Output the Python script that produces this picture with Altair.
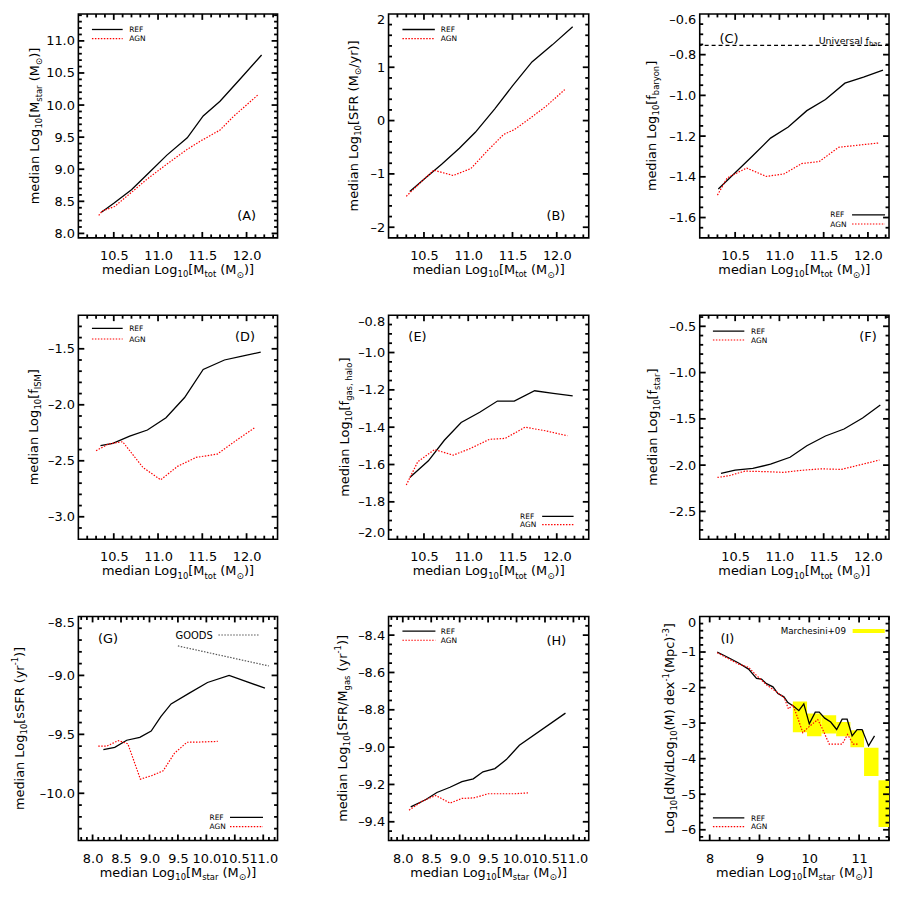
import altair as alt
import numpy as np
import pandas as pd

FONT = "DejaVu Sans"

# ================= data =================
# (A) median stellar mass vs total mass
A_REF_X = [10.36, 10.5, 10.7, 10.9, 11.1, 11.33, 11.51, 11.7, 11.93, 12.17]
A_REF_Y = [8.33, 8.47, 8.68, 8.95, 9.22, 9.49, 9.83, 10.06, 10.41, 10.78]
A_AGN_X = [10.33, 10.37, 10.51, 10.7, 10.88, 11.1, 11.33, 11.48, 11.7, 11.85, 12.13]
A_AGN_Y = [8.28, 8.35, 8.42, 8.64, 8.85, 9.08, 9.31, 9.44, 9.61, 9.82, 10.16]
# (B) SFR
B_REF_X = [10.34, 10.5, 10.7, 10.9, 11.08, 11.3, 11.5, 11.72, 11.95, 12.18]
B_REF_Y = [-1.33, -1.1, -0.82, -0.52, -0.22, 0.22, 0.65, 1.1, 1.42, 1.76]
B_AGN_X = [10.30, 10.45, 10.61, 10.83, 11.03, 11.22, 11.4, 11.52, 11.68, 11.88, 12.09]
B_AGN_Y = [-1.42, -1.18, -0.93, -1.03, -0.9, -0.56, -0.26, -0.17, 0.02, 0.27, 0.58]
# (C) baryon fraction
C_REF_X = [10.31, 10.5, 10.69, 10.9, 11.1, 11.31, 11.52, 11.74, 11.95, 12.17]
C_REF_Y = [-1.46, -1.38, -1.30, -1.21, -1.155, -1.075, -1.02, -0.94, -0.91, -0.876]
C_AGN_X = [10.3, 10.41, 10.63, 10.85, 11.05, 11.25, 11.45, 11.67, 11.9, 12.12]
C_AGN_Y = [-1.49, -1.405, -1.357, -1.398, -1.386, -1.335, -1.325, -1.255, -1.244, -1.234]
UNIVERSAL_FBAR = -0.754
# (D) ISM fraction
D_REF_X = [10.35, 10.49, 10.68, 10.88, 11.09, 11.3, 11.51, 11.75, 11.95, 12.16]
D_REF_Y = [-2.365, -2.345, -2.28, -2.225, -2.115, -1.935, -1.685, -1.6, -1.565, -1.53]
D_AGN_X = [10.3, 10.44, 10.6, 10.83, 11.03, 11.22, 11.43, 11.67, 11.88, 12.1]
D_AGN_Y = [-2.41, -2.35, -2.33, -2.56, -2.67, -2.55, -2.47, -2.44, -2.32, -2.2]
# (E) halo gas fraction
E_REF_X = [10.34, 10.55, 10.73, 10.92, 11.13, 11.33, 11.52, 11.75, 11.96, 12.18]
E_REF_Y = [-1.67, -1.58, -1.47, -1.375, -1.32, -1.26, -1.26, -1.205, -1.219, -1.232]
E_AGN_X = [10.3, 10.43, 10.62, 10.83, 11.02, 11.24, 11.42, 11.64, 11.88, 12.12]
E_AGN_Y = [-1.71, -1.585, -1.52, -1.55, -1.515, -1.465, -1.46, -1.4, -1.42, -1.446]
# (F) stellar fraction
F_REF_X = [10.34, 10.5, 10.7, 10.9, 11.12, 11.31, 11.52, 11.73, 11.94, 12.14]
F_REF_Y = [-2.09, -2.055, -2.035, -1.99, -1.915, -1.79, -1.685, -1.61, -1.49, -1.35]
F_AGN_X = [10.3, 10.43, 10.61, 10.83, 11.05, 11.25, 11.47, 11.7, 11.92, 12.13]
F_AGN_Y = [-2.133, -2.115, -2.065, -2.07, -2.078, -2.056, -2.04, -2.046, -1.995, -1.945]
# (G) sSFR
G_REF_X = [8.19, 8.39, 8.6, 8.83, 9.03, 9.2, 9.38, 9.7, 10.02, 10.4, 11.03]
G_REF_Y = [-9.63, -9.61, -9.55, -9.525, -9.472, -9.35, -9.242, -9.15, -9.06, -9.0, -9.108]
G_AGN_X = [8.1, 8.25, 8.45, 8.62, 8.84, 9.04, 9.24, 9.44, 9.66, 9.9, 10.2]
G_AGN_Y = [-9.6, -9.6, -9.553, -9.58, -9.88, -9.85, -9.81, -9.66, -9.567, -9.565, -9.56]
GOODS_X = [9.5, 11.1]
GOODS_Y = [-8.75, -8.92]
# (H) SFR / Mgas
H_REF_X = [8.14, 8.4, 8.6, 8.83, 9.04, 9.24, 9.41, 9.62, 9.82, 10.05, 10.86]
H_REF_Y = [-9.32, -9.282, -9.243, -9.215, -9.185, -9.17, -9.132, -9.115, -9.067, -8.99, -8.818]
H_AGN_X = [8.11, 8.34, 8.58, 8.83, 9.04, 9.25, 9.5, 9.7, 9.95, 10.22]
H_AGN_Y = [-9.338, -9.29, -9.259, -9.3, -9.275, -9.272, -9.25, -9.25, -9.25, -9.245]
# (I) stellar mass function
I_REF_X = [8.15, 8.38, 8.58, 8.78, 8.94, 9.04, 9.14, 9.27, 9.37, 9.49, 9.57, 9.68, 9.79, 9.89,
           10.0, 10.12, 10.2, 10.31, 10.43, 10.55, 10.66, 10.76, 10.86, 10.96, 11.06, 11.19, 11.31]
I_REF_Y = [-1.0, -1.16, -1.31, -1.48, -1.74, -1.76, -1.89, -1.98, -2.17, -2.26, -2.42, -2.52, -2.65, -2.46,
           -3.02, -2.69, -2.69, -2.86, -2.97, -3.18, -2.89, -2.89, -3.36, -3.18, -3.18, -3.64, -3.36]
I_AGN_X = [8.15, 8.35, 8.58, 8.78, 8.94, 9.14, 9.34, 9.5, 9.58, 9.67, 9.77, 9.87, 9.97, 10.17,
           10.27, 10.4, 10.66, 10.77, 10.88, 10.98]
I_AGN_Y = [-1.02, -1.17, -1.34, -1.43, -1.66, -1.92, -2.12, -2.29, -2.6, -2.49, -2.86, -3.27, -3.13, -2.9,
           -3.18, -3.59, -3.59, -3.32, -3.59, -3.59]
MARCH_X1 = [9.67, 9.955, 10.245, 10.54, 10.825, 11.1, 11.39]
MARCH_X2 = [9.955, 10.245, 10.54, 10.825, 11.1, 11.39, 11.7]
MARCH_YTOP = [-2.39, -2.73, -2.78, -2.97, -3.2, -3.69, -4.61]
MARCH_YBOT = [-3.26, -3.37, -3.29, -3.37, -3.68, -4.49, -5.92]

# ================= text helpers =================
CW = {' ': .318, 'a': .613, 'b': .635, 'c': .550, 'd': .635, 'e': .615, 'f': .352, 'g': .635,
      'h': .634, 'i': .278, 'l': .278, 'm': .974, 'n': .634, 'o': .612, 'p': .635, 'r': .411,
      's': .521, 't': .392, 'u': .634, 'v': .592, 'x': .592, 'y': .592, 'A': .684, 'C': .698,
      'D': .770, 'E': .632, 'F': .575, 'G': .775, 'H': .752, 'I': .295, 'L': .557, 'M': .863,
      'N': .748, 'O': .787, 'R': .695, 'S': .635, 'U': .732, '[': .390, ']': .390, '(': .390,
      ')': .390, '/': .337, ',': .318, '-': .361, '+': .838, '\u2299': .838}
for _d in '0123456789':
    CW[_d] = .636


def tw(s, fs):
    return sum(CW.get(ch, 0.6) for ch in s) * fs


N = (13.0, 0.0)
SUB = (8.5, 3.2)
SUP = (8.5, -5.5)
SUN = (9.0, 3.6)
SUN_CHAR = "\u2299"
XT_BASE = 36.5


def seg_rows(segs, horizontal, w, h, base):
    rows = []
    widths = [tw(t, st[0]) for t, st in segs]
    total = sum(widths)
    cum = 0.0
    for (t, (fs, sh)), wd in zip(segs, widths):
        lead = len(t) - len(t.lstrip(' '))
        off = cum + tw(' ' * lead, fs)
        txt = t.strip(' ')
        if horizontal:
            rows.append(dict(px=w / 2 - total / 2 + off, py=h + base + sh, t=txt, fs=fs, ang=0))
        else:
            rows.append(dict(px=base + sh, py=h / 2 + total / 2 - off, t=txt, fs=fs, ang=270))
        cum += wd
    return rows


def inline_rows(segs, x, y):
    rows = []
    cum = 0.0
    for t, (fs, sh) in segs:
        rows.append(dict(px=x + cum, py=y + sh, t=t, fs=fs, ang=0))
        cum += tw(t, fs)
    return rows


XT_TOT = [("median Log", N), ("10", SUB), ("[M", N), ("tot", SUB), (" (M", N), (SUN_CHAR, SUN), (")]", N)]
XT_STAR = [("median Log", N), ("10", SUB), ("[M", N), ("star", SUB), (" (M", N), (SUN_CHAR, SUN), (")]", N)]
YT = {
    'A': [("median Log", N), ("10", SUB), ("[M", N), ("star", SUB), (" (M", N), (SUN_CHAR, SUN), (")]", N)],
    'B': [("median Log", N), ("10", SUB), ("[SFR (M", N), (SUN_CHAR, SUN), ("/yr)]", N)],
    'C': [("median Log", N), ("10", SUB), ("[f", N), ("baryon", SUB), ("]", N)],
    'D': [("median Log", N), ("10", SUB), ("[f", N), ("ISM", SUB), ("]", N)],
    'E': [("median Log", N), ("10", SUB), ("[f", N), ("gas, halo", SUB), ("]", N)],
    'F': [("median Log", N), ("10", SUB), ("[f", N), ("star", SUB), ("]", N)],
    'G': [("median Log", N), ("10", SUB), ("[sSFR (yr", N), ("-1", SUP), (")]", N)],
    'H': [("median Log", N), ("10", SUB), ("[SFR/M", N), ("gas", SUB), (" (yr", N), ("-1", SUP), (")]", N)],
    'I': [("Log", N), ("10", SUB), ("[dN/dLog", N), ("10", SUB), ("(M) dex", N), ("-1", SUP),
          ("(Mpc)", N), ("-3", SUP), ("]", N)],
}


def ticks(lo, hi, step):
    start = np.ceil(lo / step - 1e-9) * step
    vals = np.arange(start, hi + 1e-9, step)
    return [round(float(v), 4) for v in vals if lo + 1e-6 < v < hi - 1e-6]


def label_axis(orient, values, fmt, flush=False):
    return alt.Axis(orient=orient, values=values, format=fmt, ticks=False, tickSize=0, domain=False,
                    grid=False, title=None, labelFont=FONT, labelFontSize=13, labelColor='black',
                    labelPadding=12 if orient == 'bottom' else 4, labelOverlap=False,
                    labelFlush=flush,
                    labelExpr="replace(datum.label, '\u2212', '\u2013')")


DUMMY = pd.DataFrame({'a': [0]})


def sample(x1, x2, y, color, dash=None, width=1.2):
    mk = dict(color=color, strokeWidth=width)
    if dash:
        mk['strokeDash'] = dash
    return alt.Chart(DUMMY).mark_rule(**mk).encode(x=alt.value(x1), x2=alt.value(x2), y=alt.value(y))


MAJ, MIN = 6.0, 3.5
TICK_W = 1.8


def x_tick_layer(xmaj, xmin, scale, w, h):
    # inward ticks on bottom and top frame: value through the scale, length in pixels
    rows = []
    for vals, ln in ((xmaj, MAJ), (xmin, MIN)):
        for v in vals:
            rows.append(dict(v=v, p0=h, p1=h - ln))
            rows.append(dict(v=v, p0=0.0, p1=ln))
    df = pd.DataFrame(rows)
    return alt.Chart(df).mark_rule(color='black', strokeWidth=TICK_W).encode(
        x=alt.X('v:Q', scale=scale, axis=None),
        y=alt.Y('p0:Q', scale=None, axis=None),
        y2=alt.Y2('p1:Q'))


def y_tick_layer(ymaj, ymin, scale, w, h):
    rows = []
    for vals, ln in ((ymaj, MAJ), (ymin, MIN)):
        for v in vals:
            rows.append(dict(v=v, p0=0.0, p1=ln))
            rows.append(dict(v=v, p0=w, p1=w - ln))
    df = pd.DataFrame(rows)
    return alt.Chart(df).mark_rule(color='black', strokeWidth=TICK_W).encode(
        y=alt.Y('v:Q', scale=scale, axis=None),
        x=alt.X('p0:Q', scale=None, axis=None),
        x2=alt.X2('p1:Q'))


REF_STYLE = dict(color='black', strokeWidth=1.3)
AGN_STYLE = dict(color='#ff0000', strokeWidth=1.2, strokeDash=[1.5, 1.5])


def panel(c):
    w, h = c['w'], c['h']
    xs = alt.Scale(domain=c['xd'], nice=False, zero=False)
    ys = alt.Scale(domain=c['yd'], nice=False, zero=False)
    xmaj = [v for v in c['xmaj'] if c['xd'][0] < v < c['xd'][1]]
    ymaj = [v for v in c['ymaj'] if c['yd'][0] < v < c['yd'][1]]
    xmin = [v for v in ticks(c['xd'][0], c['xd'][1], c['xstep']) if v not in xmaj]
    ymin = [v for v in ticks(c['yd'][0], c['yd'][1], c['ystep']) if v not in ymaj]
    ref = pd.DataFrame({'x': c['ref'][0], 'y': c['ref'][1]})
    ref['i'] = range(len(ref))
    agn = pd.DataFrame({'x': c['agn'][0], 'y': c['agn'][1]})
    agn['i'] = range(len(agn))

    layers = []
    for ex in c.get('extras', []):
        layers.append(ex(xs, ys))
    layers.append(alt.Chart(ref).mark_line(**REF_STYLE).encode(
        x=alt.X('x:Q', scale=xs, axis=label_axis('bottom', c['xmaj'], c['xfmt'])),
        y=alt.Y('y:Q', scale=ys, axis=label_axis('left', c['ymaj'], c['yfmt'], flush=True)),
        order='i:Q'))
    layers.append(alt.Chart(agn).mark_line(**AGN_STYLE).encode(
        x=alt.X('x:Q', scale=xs, axis=None),
        y=alt.Y('y:Q', scale=ys, axis=None),
        order='i:Q'))
    layers.append(x_tick_layer(xmaj, xmin, xs, w, h))
    layers.append(y_tick_layer(ymaj, ymin, ys, w, h))

    x1, x2, yr, ya, tx = c['legend']
    layers.append(sample(x1, x2, yr, 'black', width=1.3))
    layers.append(sample(x1, x2, ya, '#ff0000', dash=[1.5, 1.5]))
    for s in c.get('samples', []):
        layers.append(s)

    rows = []
    rows += seg_rows(c['xt'], True, w, h, XT_BASE)
    rows += seg_rows(YT[c['name']], False, w, h, c['ytx'])
    rows.append(dict(px=tx, py=yr + 2.7, t='REF', fs=7.5, ang=0))
    rows.append(dict(px=tx, py=ya + 2.7, t='AGN', fs=7.5, ang=0))
    tag, tgx, tgy = c['tag']
    rows.append(dict(px=tgx, py=tgy, t=tag, fs=13, ang=0))
    rows += c.get('texts', [])
    tdf = pd.DataFrame(rows)
    layers.append(alt.Chart(tdf).mark_text(align='left', baseline='alphabetic', font=FONT,
                                            color='black').encode(
        x=alt.X('px:Q', scale=None, axis=None),
        y=alt.Y('py:Q', scale=None, axis=None),
        text='t:N',
        size=alt.Size('fs:Q', scale=None, legend=None),
        angle=alt.Angle('ang:Q', scale=None, legend=None)))

    return alt.layer(*layers).resolve_scale(x='independent', y='independent').properties(
        width=w, height=h)


def universal_layer(xs, ys):
    return alt.Chart(pd.DataFrame({'y': [UNIVERSAL_FBAR]})).mark_rule(
        color='black', strokeWidth=1.2, strokeDash=[4, 3]).encode(
        y=alt.Y('y:Q', scale=ys, axis=None))


def goods_layer(xs, ys):
    return alt.Chart(pd.DataFrame({'x': GOODS_X, 'y': GOODS_Y})).mark_line(
        color='#555555', strokeWidth=1.2, strokeDash=[1.5, 1.5]).encode(
        x=alt.X('x:Q', scale=xs, axis=None), y=alt.Y('y:Q', scale=ys, axis=None))


def march_layer(xs, ys):
    df = pd.DataFrame({'x1': MARCH_X1, 'x2': MARCH_X2, 'y1': MARCH_YTOP, 'y2': MARCH_YBOT})
    return alt.Chart(df).mark_rect(color='#ffff00', clip=True).encode(
        x=alt.X('x1:Q', scale=xs, axis=None), x2='x2:Q',
        y=alt.Y('y1:Q', scale=ys, axis=None), y2='y2:Q')


XMAJ_TOT = [10.5, 11.0, 11.5, 12.0]
XMAJ_STAR = [8.0, 8.5, 9.0, 9.5, 10.0, 10.5, 11.0]
TL = lambda yr, ya: (13.7, 44.7, yr, ya, 51.3)

W_L, W_M, W_R = 201, 202, 191
H = 226
PX_TOT = 89.33
PX_STAR = 57.4

cfg = {
    'A': dict(w=W_L, h=H, xd=[10.1, 10.1 + W_L / PX_TOT], yd=[7.93, 11.42],
              xmaj=XMAJ_TOT, xfmt='.1f', xstep=0.1, ymaj=[8.0, 8.5, 9.0, 9.5, 10.0, 10.5, 11.0], yfmt='.1f',
              ystep=0.1,
              ref=(A_REF_X, A_REF_Y), agn=(A_AGN_X, A_AGN_Y), xt=XT_TOT, ytx=-40,
              legend=TL(15.7, 25), tag=('(A)', 160.3, H - 17.6)),
    'B': dict(w=W_M, h=H, xd=[10.1, 10.1 + W_M / PX_TOT], yd=[-2.2, 2.0],
              xmaj=XMAJ_TOT, xfmt='.1f', xstep=0.1, ymaj=[-2, -1, 0, 1, 2], yfmt='d', ystep=0.2,
              ref=(B_REF_X, B_REF_Y), agn=(B_AGN_X, B_AGN_Y), xt=XT_TOT, ytx=-31,
              legend=(14, 46.7, 15.7, 25, 52.7), tag=('(B)', 159.3, H - 17.6)),
    'C': dict(w=W_R, h=H, xd=[10.1, 10.1 + W_R / PX_TOT], yd=[-1.7, -0.6],
              xmaj=XMAJ_TOT, xfmt='.1f', xstep=0.1, ymaj=[-1.6, -1.4, -1.2, -1.0, -0.8, -0.6], yfmt='.1f',
              ystep=0.05,
              ref=(C_REF_X, C_REF_Y), agn=(C_AGN_X, C_AGN_Y), xt=XT_TOT, ytx=-44,
              legend=(153.7, 187, H - 23.3, H - 14, 131.7), tag=('(C)', 20, 29),
              extras=[universal_layer],
              texts=inline_rows([("Universal f", (9.5, 0)), ("bar", (7.0, 2.5))], 120, 30)),
    'D': dict(w=W_L, h=H, xd=[10.1, 10.1 + W_L / PX_TOT], yd=[-3.2, -1.2],
              xmaj=XMAJ_TOT, xfmt='.1f', xstep=0.1, ymaj=[-3.0, -2.5, -2.0, -1.5], yfmt='.1f', ystep=0.1,
              ref=(D_REF_X, D_REF_Y), agn=(D_AGN_X, D_AGN_Y), xt=XT_TOT, ytx=-41,
              legend=TL(13.3, 24), tag=('(D)', 158, 26.4)),
    'E': dict(w=W_M, h=H, xd=[10.1, 10.1 + W_M / PX_TOT], yd=[-2.0, -0.8],
              xmaj=XMAJ_TOT, xfmt='.1f', xstep=0.1, ymaj=[-2.0, -1.8, -1.6, -1.4, -1.2, -1.0, -0.8],
              yfmt='.1f', ystep=0.05,
              ref=(E_REF_X, E_REF_Y), agn=(E_AGN_X, E_AGN_Y), xt=XT_TOT, ytx=-40,
              legend=(155, 186.7, H - 23, H - 14.7, 132.7), tag=('(E)', 20, 25.7)),
    'F': dict(w=W_R, h=H, xd=[10.1, 10.1 + W_R / PX_TOT], yd=[-2.8, -0.38],
              xmaj=XMAJ_TOT, xfmt='.1f', xstep=0.1, ymaj=[-2.5, -2.0, -1.5, -1.0, -0.5], yfmt='.1f', ystep=0.1,
              ref=(F_REF_X, F_REF_Y), agn=(F_AGN_X, F_AGN_Y), xt=XT_TOT, ytx=-43,
              legend=(13.3, 45, 16, 25, 51.7), tag=('(F)', 161, 26.4)),
    'G': dict(w=W_L, h=H, xd=[7.75, 7.75 + W_L / PX_STAR], yd=[-10.4, -8.5],
              xmaj=XMAJ_STAR, xfmt='.1f', xstep=0.1, ymaj=[-10.0, -9.5, -9.0, -8.5], yfmt='.1f', ystep=0.1,
              ref=(G_REF_X, G_REF_Y), agn=(G_AGN_X, G_AGN_Y), xt=XT_STAR, ytx=-55,
              legend=(153, 186.3, H - 23.3, H - 14, 132.3), tag=('(G)', 19.7, 27),
              extras=[goods_layer],
              samples=[sample(141.3, 182.3, 18.7, '#555555', dash=[1.5, 1.5])],
              texts=[dict(px=98, py=22.5, t='GOODS', fs=10, ang=0)]),
    'H': dict(w=W_M, h=H, xd=[7.75, 7.75 + W_M / PX_STAR], yd=[-9.5, -8.3],
              xmaj=XMAJ_STAR, xfmt='.1f', xstep=0.1, ymaj=[-9.4, -9.2, -9.0, -8.8, -8.6, -8.4], yfmt='.1f',
              ystep=0.05,
              ref=(H_REF_X, H_REF_Y), agn=(H_AGN_X, H_AGN_Y), xt=XT_STAR, ytx=-42,
              legend=(14, 47.3, 14.7, 24, 52.7), tag=('(H)', 159.3, 28.7)),
    'I': dict(w=W_R, h=H, xd=[7.8, 7.8 + W_R / 50.25], yd=[-6.3, 0.0],
              xmaj=[8, 9, 10, 11], xfmt='d', xstep=0.2, ymaj=[-6, -5, -4, -3, -2, -1, 0], yfmt='d', ystep=0.2,
              ref=(I_REF_X, I_REF_Y), agn=(I_AGN_X, I_AGN_Y), xt=XT_STAR, ytx=-26,
              legend=(13.3, 45, H - 22.7, H - 14, 51.7), tag=('(I)', 21, 27),
              extras=[march_layer],
              samples=[sample(154.3, 186.7, 14.7, '#ffff00', width=4)],
              texts=[dict(px=81.7, py=18, t='Marchesini+09', fs=8.8, ang=0)]),
}
for k in cfg:
    cfg[k]['name'] = k

panels = [panel(cfg[n]) for n in 'ABCDEFGHI']

chart = alt.concat(*panels, columns=3, spacing={'row': 78, 'column': 112}, bounds='flush',
                   align='none').properties(
    padding={'left': 2, 'top': 0, 'right': 0, 'bottom': 0},
    background='white',
).configure_view(stroke='black', strokeWidth=1.6)

chart.save("out.html", embed_options={"renderer": "svg", "actions": False})
